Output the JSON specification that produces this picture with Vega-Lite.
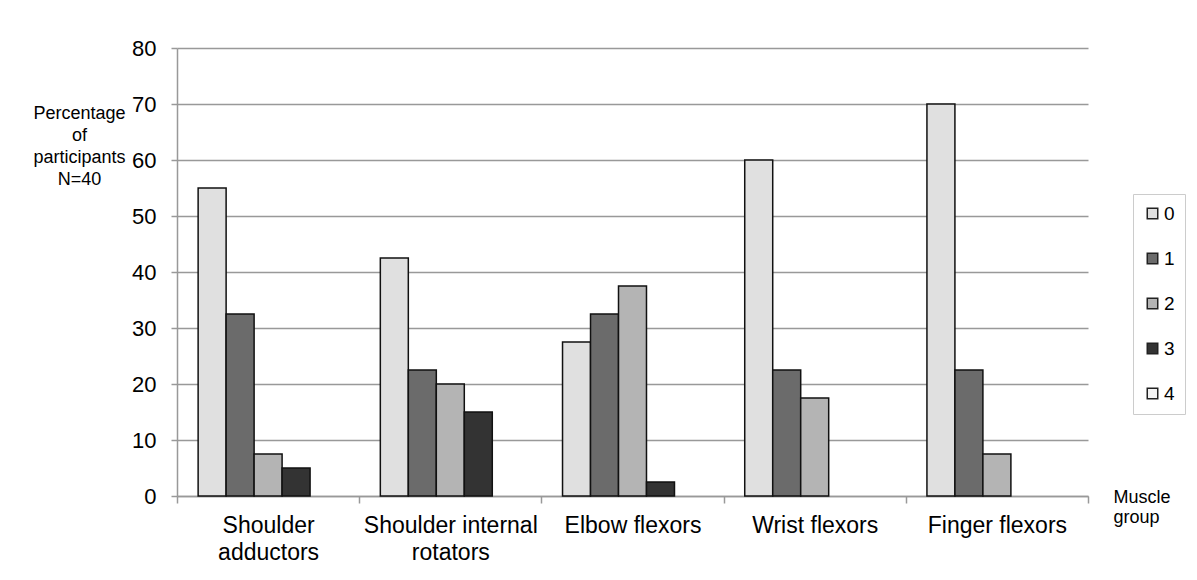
{
  "$schema": "https://vega.github.io/schema/vega-lite/v6.json",
  "width": 911,
  "height": 448,
  "autosize": {"type": "none"},
  "padding": {"left": 177, "top": 48, "right": 109, "bottom": 84},
  "background": "white",
  "config": {
    "font": "Liberation Sans",
    "view": {"stroke": null}
  },
  "data": {
    "values": [
      {"group": "Shoulder adductors", "score": "0", "pct": 55},
      {"group": "Shoulder adductors", "score": "1", "pct": 32.5},
      {"group": "Shoulder adductors", "score": "2", "pct": 7.5},
      {"group": "Shoulder adductors", "score": "3", "pct": 5},
      {"group": "Shoulder adductors", "score": "4", "pct": 0},
      {"group": "Shoulder internal rotators", "score": "0", "pct": 42.5},
      {"group": "Shoulder internal rotators", "score": "1", "pct": 22.5},
      {"group": "Shoulder internal rotators", "score": "2", "pct": 20},
      {"group": "Shoulder internal rotators", "score": "3", "pct": 15},
      {"group": "Shoulder internal rotators", "score": "4", "pct": 0},
      {"group": "Elbow flexors", "score": "0", "pct": 27.5},
      {"group": "Elbow flexors", "score": "1", "pct": 32.5},
      {"group": "Elbow flexors", "score": "2", "pct": 37.5},
      {"group": "Elbow flexors", "score": "3", "pct": 2.5},
      {"group": "Elbow flexors", "score": "4", "pct": 0},
      {"group": "Wrist flexors", "score": "0", "pct": 60},
      {"group": "Wrist flexors", "score": "1", "pct": 22.5},
      {"group": "Wrist flexors", "score": "2", "pct": 17.5},
      {"group": "Wrist flexors", "score": "3", "pct": 0},
      {"group": "Wrist flexors", "score": "4", "pct": 0},
      {"group": "Finger flexors", "score": "0", "pct": 70},
      {"group": "Finger flexors", "score": "1", "pct": 22.5},
      {"group": "Finger flexors", "score": "2", "pct": 7.5},
      {"group": "Finger flexors", "score": "3", "pct": 0},
      {"group": "Finger flexors", "score": "4", "pct": 0}
    ]
  },
  "transform": [{"filter": "datum.pct > 0"}],
  "mark": {"type": "bar", "stroke": "#111111", "strokeWidth": 1.5},
  "encoding": {
    "x": {
      "field": "group",
      "type": "nominal",
      "sort": ["Shoulder adductors", "Shoulder internal rotators", "Elbow flexors", "Wrist flexors", "Finger flexors"],
      "scale": {"paddingInner": 0, "paddingOuter": 0},
      "axis": {
        "title": ["Muscle", "group"],
        "titleFont": "Liberation Sans",
        "titleFontSize": 18,
        "titleFontWeight": "normal",
        "titleColor": "#000000",
        "titleAlign": "left",
        "titleBaseline": "middle",
        "titleAnchor": null,
        "titleX": 936,
        "titleY": 1,
        "titleLineHeight": 20,
        "labelAngle": 0,
        "labelFontSize": 23,
        "labelColor": "#000000",
        "labelPadding": 11,
        "labelLineHeight": 27,
        "labelExpr": "datum.label == 'Shoulder adductors' ? ['Shoulder', 'adductors'] : datum.label == 'Shoulder internal rotators' ? ['Shoulder internal', 'rotators'] : datum.label",
        "tickBand": "extent",
        "tickSize": 7,
        "tickColor": "#999999",
        "tickWidth": 1.5,
        "domainColor": "#999999",
        "domainWidth": 1.5
      }
    },
    "xOffset": {
      "field": "score",
      "type": "nominal",
      "scale": {"domain": ["0", "1", "2", "3", "4"], "paddingInner": 0, "paddingOuter": 0.755}
    },
    "y": {
      "field": "pct",
      "type": "quantitative",
      "scale": {"domain": [0, 80]},
      "axis": {
        "values": [0, 10, 20, 30, 40, 50, 60, 70, 80],
        "title": ["Percentage", "of", "participants", "N=40"],
        "titleFont": "Liberation Sans",
        "titleFontSize": 18,
        "titleFontWeight": "normal",
        "titleColor": "#000000",
        "titleAngle": 0,
        "titleAlign": "center",
        "titleBaseline": "middle",
        "titleAnchor": null,
        "titleX": -98,
        "titleY": 65,
        "titleLineHeight": 22,
        "labelFontSize": 22,
        "labelColor": "#000000",
        "labelPadding": 15,
        "tickSize": 6,
        "tickColor": "#999999",
        "tickWidth": 1.5,
        "domainColor": "#999999",
        "domainWidth": 1.5,
        "grid": true,
        "gridColor": "#999999",
        "gridWidth": 1.5
      }
    },
    "color": {
      "field": "score",
      "type": "nominal",
      "scale": {
        "domain": ["0", "1", "2", "3", "4"],
        "range": ["#e0e0e0", "#6b6b6b", "#b4b4b4", "#333333", "#f4f4f4"]
      },
      "legend": {
        "title": null,
        "orient": "none",
        "legendX": 956,
        "legendY": 146,
        "symbolType": "square",
        "symbolSize": 110,
        "symbolStrokeColor": "#222222",
        "symbolStrokeWidth": 1.5,
        "labelFontSize": 19,
        "labelColor": "#000000",
        "labelOffset": 2,
        "rowPadding": 25,
        "padding": 10,
        "strokeColor": "#cccccc",
        "fillColor": "#ffffff"
      }
    }
  }
}
